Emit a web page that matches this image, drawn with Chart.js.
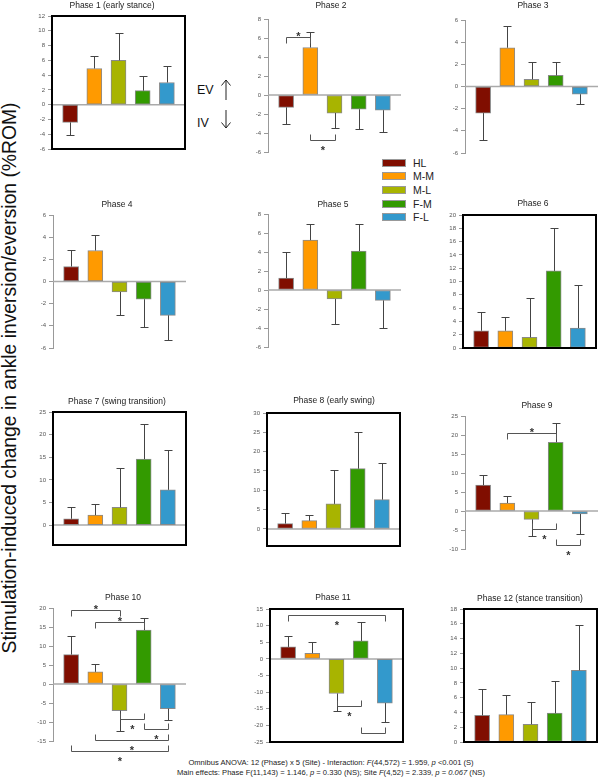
<!DOCTYPE html>
<html>
<head>
<meta charset="utf-8">
<script src="https://cdn.jsdelivr.net/npm/chart.js@4.4.1/dist/chart.umd.min.js"></script>
<style>
  body { margin: 0; background: #fff; width: 600px; height: 779px; position: relative; overflow: hidden;
         font-family: 'Liberation Sans', Arial, sans-serif; color: #222; }
  canvas { position: absolute; }
  .ytitle { position: absolute; left: 10px; top: 378px; transform: translate(-50%, -50%) rotate(-90deg);
            white-space: nowrap; font-size: 19.3px; line-height: 22px; color: #111; }
  .leg { position: absolute; left: 382px; height: 14px; line-height: 14px; font-size: 10.5px; }
  .leg span { position: absolute; left: 0; top: 3px; width: 24px; height: 8px; box-sizing: border-box; border: 1px solid #999; }
  .leg b { position: absolute; left: 31px; top: 0; font-weight: normal; white-space: nowrap; }
  .ev { position: absolute; left: 197px; font-size: 12.5px; line-height: 14px; color: #111; }
  .foot { position: absolute; left: 331px; transform: translateX(-50%); white-space: nowrap; font-size: 7.6px; color: #222; }
</style>
</head>
<body>
<div class="ytitle">Stimulation-induced change in ankle inversion/eversion (%ROM)</div>

<div class="ev" style="top:83px">EV</div>
<div class="ev" style="top:116px">IV</div>
<svg style="position:absolute;left:0;top:0" width="600" height="779">
  <g stroke="#222" stroke-width="1" fill="none">
    <line x1="226" y1="100" x2="226" y2="80"/><polyline points="221.5,85.5 226,80 230.5,85.5"/>
    <line x1="226" y1="110" x2="226" y2="128"/><polyline points="221.5,122.5 226,128 230.5,122.5"/>
  </g>
</svg>

<div id="legend"></div>

<div class="foot" style="top:758px">Omnibus ANOVA: 12 (Phase) x 5 (Site) - Interaction: <i>F</i>(44,572) = 1.959, <i>p</i> &lt;0.001 (S)</div>
<div class="foot" style="top:768px">Main effects: Phase F(11,143) = 1.146, <i>p</i> = 0.330 (NS); Site <i>F</i>(4,52) = 2.339, <i>p</i> = <i>0.067</i> (NS)</div>

<script>
// ---- data ----
const sites = ['HL', 'M-M', 'M-L', 'F-M', 'F-L'];
const siteColors = ['#800e00', '#ff9a00', '#a8b400', '#339a00', '#3399cc'];

const phaseTitles = ['Phase 1 (early stance)', 'Phase 2', 'Phase 3', 'Phase 4', 'Phase 5', 'Phase 6',
  'Phase 7 (swing transition)', 'Phase 8 (early swing)', 'Phase 9', 'Phase 10', 'Phase 11',
  'Phase 12 (stance transition)'];

// mean change and SD, per site (HL, M-M, M-L, F-M, F-L)
const mean1 = [-2.4, 4.9, 6.0, 1.9, 3.0],      sd1 = [1.7, 1.7, 3.7, 2.0, 2.2];
const mean2 = [-1.3, 5.0, -1.9, -1.5, -1.6],   sd2 = [1.7, 1.6, 1.6, 2.1, 2.3];
const mean3 = [-2.4, 3.5, 0.65, 1.0, -0.7],    sd3 = [2.4, 2.0, 1.55, 1.25, 0.9];
const mean4 = [1.35, 2.8, -0.95, -1.6, -3.05], sd4 = [1.45, 1.4, 2.05, 2.5, 2.2];
const mean5 = [1.25, 5.25, -0.95, 4.1, -1.1],  sd5 = [2.75, 1.75, 2.6, 2.9, 2.95];
const mean6 = [2.6, 2.6, 1.6, 11.6, 3.0],      sd6 = [2.8, 2.1, 5.9, 6.4, 6.4];
const mean7 = [1.4, 2.2, 3.9, 14.6, 7.8],      sd7 = [2.5, 2.4, 8.7, 7.7, 8.7];
const mean8 = [1.4, 2.15, 6.5, 15.6, 7.6],     sd8 = [2.8, 1.55, 8.8, 9.6, 9.4];
const mean9 = [6.8, 2.1, -2.2, 18.1, -0.8],    sd9 = [2.8, 1.9, 4.5, 5.0, 5.25];
const mean10 = [7.75, 3.2, -7.0, 14.2, -6.5],  sd10 = [4.9, 2.0, 5.35, 3.3, 3.0];
const mean11 = [3.6, 1.7, -10.4, 5.4, -13.3],  sd11 = [3.3, 3.5, 5.2, 5.8, 5.6];
const mean12 = [3.6, 3.7, 2.4, 3.9, 9.7],      sd12 = [3.6, 2.7, 3.0, 4.35, 6.2];

// y-axis ranges and tick labels
const yMin = [-6, -6, -6, -6, -6, 0, -4.4, -4.4, -10, -15, -25, 0];
const yMax = [12, 8, 6, 6, 8, 20, 25, 30, 25, 20, 15, 18];
const ticks1 = [-6, -4, -2, 0, 2, 4, 6, 8, 10, 12];
const ticks2 = [-6, -4, -2, 0, 2, 4, 6, 8];
const ticks3 = [-6, -4, -2, 0, 2, 4, 6];
const ticks4 = [-6, -4, -2, 0, 2, 4, 6];
const ticks5 = [-6, -4, -2, 0, 2, 4, 6, 8];
const ticks6 = [0, 2, 4, 6, 8, 10, 12, 14, 16, 18, 20];
const ticks7 = [0, 5, 10, 15, 20, 25];
const ticks8 = [0, 5, 10, 15, 20, 25, 30];
const ticks9 = [-10, -5, 0, 5, 10, 15, 20, 25];
const ticks10 = [-15, -10, -5, 0, 5, 10, 15, 20];
const ticks11 = [-25, -20, -15, -10, -5, 0, 5, 10, 15];
const ticks12 = [0, 2, 4, 6, 8, 10, 12, 14, 16, 18];

// significance brackets: [from site, to site, level, star]
const brackets2 = [[0, 1, 6.1, 'above'], [1, 2, -4.7, 'below']];
const brackets9 = [[1, 3, 20.4, 'above'], [2, 3, -4.75, 'below'], [3, 4, -9.0, 'below']];
const brackets10 = [[0, 2, 19.6, 'above'], [1, 3, 16.3, 'above'], [2, 3, -9.3, 'below'],
  [3, 4, -11.9, 'below'], [1, 4, -14.7, 'below'], [0, 4, -17.6, 'below']];
const brackets11 = [[0, 4, 13.3, 'below'], [2, 3, -14.1, 'below'], [3, 4, -22.2, 'none']];

const means = [mean1, mean2, mean3, mean4, mean5, mean6, mean7, mean8, mean9, mean10, mean11, mean12];
const sds = [sd1, sd2, sd3, sd4, sd5, sd6, sd7, sd8, sd9, sd10, sd11, sd12];
const tickSets = [ticks1, ticks2, ticks3, ticks4, ticks5, ticks6, ticks7, ticks8, ticks9, ticks10, ticks11, ticks12];
const bracketSets = [[], brackets2, [], [], [], [], [], [], brackets9, brackets10, brackets11, []];
const boxed = [true, false, false, false, false, true, true, true, false, false, true, true];

// ---- layout ----
// [axis x, plot top, title x, title y]
const panelPos = [
  [52, 16, 112, 6], [268, 19, 331, 6], [465, 20, 533, 5.5],
  [53, 215, 117, 204.7], [268, 214, 333, 204.7], [463, 215, 533, 204],
  [53, 412, 117, 402], [267, 413, 334, 401], [465, 416, 537, 405.7],
  [53, 608, 123, 597.3], [270, 609, 333, 598], [464, 609, 530, 599]
];
const AX_W = 26, PLOT_W = 133, PLOT_H = 133, PAD_T = 24, PAD_R = 6, PAD_B = 34;
const FONT = "'Liberation Sans', Arial, sans-serif";

Chart.defaults.font.family = FONT;
Chart.defaults.animation = false;

// legend
const legendRows = [162.7, 176.3, 190, 203.7, 217.4];
const legend = document.getElementById('legend');
sites.forEach((s, k) => {
  const d = document.createElement('div');
  d.className = 'leg';
  d.style.top = (legendRows[k] - 7) + 'px';
  d.innerHTML = '<span style="background:' + siteColors[k] + '"></span><b>' + s + '</b>';
  legend.appendChild(d);
});

function decoPlugin(i) {
  const [ax, top, tx, ty] = panelPos[i];
  const offX = ax - AX_W, offY = top - PAD_T;
  return {
    id: 'deco' + i,
    beforeDatasetsDraw(chart) {
      const { ctx, chartArea: a, scales: { y } } = chart;
      if (y.min >= 0) return;
      const y0 = y.getPixelForValue(0);
      ctx.save();
      ctx.strokeStyle = '#aaa';
      ctx.lineWidth = 1.5;
      ctx.beginPath();
      ctx.moveTo(a.left, y0);
      ctx.lineTo(a.right, y0);
      ctx.stroke();
      ctx.restore();
    },
    afterDatasetsDraw(chart) {
      const { ctx, scales: { x, y } } = chart;
      ctx.save();
      ctx.strokeStyle = '#444';
      ctx.lineWidth = 1;
      means[i].forEach((m, k) => {
        const tip = m >= 0 ? m + sds[i][k] : m - sds[i][k];
        const px = Math.round(x.getPixelForValue(k)) + 0.5;
        const y1 = y.getPixelForValue(m), y2 = Math.round(y.getPixelForValue(tip)) + 0.5;
        ctx.beginPath();
        ctx.moveTo(px, y1);
        ctx.lineTo(px, y2);
        ctx.moveTo(px - 4, y2);
        ctx.lineTo(px + 4, y2);
        ctx.stroke();
      });
      ctx.restore();
    },
    afterDraw(chart) {
      const { ctx, chartArea: a, scales: { x, y } } = chart;
      ctx.save();
      if (boxed[i]) {
        ctx.strokeStyle = '#000';
        ctx.lineWidth = 2;
        ctx.strokeRect(a.left, a.top, a.right - a.left, a.bottom - a.top);
      }
      // title
      ctx.fillStyle = '#222';
      ctx.font = '8.5px ' + FONT;
      ctx.textAlign = 'center';
      ctx.textBaseline = 'middle';
      ctx.fillText(phaseTitles[i], tx - offX, ty - offY);
      // brackets
      ctx.strokeStyle = '#555';
      ctx.lineWidth = 1;
      ctx.fillStyle = '#333';
      ctx.font = 'bold 11px ' + FONT;
      ctx.textBaseline = 'alphabetic';
      bracketSets[i].forEach(([from, to, lvl, star]) => {
        const x1 = Math.round(x.getPixelForValue(from)) + 0.5;
        const x2 = Math.round(x.getPixelForValue(to)) + 0.5;
        const by = Math.round(y.getPixelForValue(lvl)) + 0.5;
        const t = lvl > 0 ? 6 : -6;
        ctx.beginPath();
        ctx.moveTo(x1, by + t);
        ctx.lineTo(x1, by);
        ctx.lineTo(x2, by);
        ctx.lineTo(x2, by + t);
        ctx.stroke();
        if (star === 'above') ctx.fillText('*', (x1 + x2) / 2, by + 2);
        else if (star === 'below') ctx.fillText('*', (x1 + x2) / 2, by + 13);
      });
      ctx.restore();
    }
  };
}

function makePanel(i) {
  const [ax, top] = panelPos[i];
  const canvas = document.createElement('canvas');
  canvas.width = AX_W + PLOT_W + PAD_R;
  canvas.height = PAD_T + PLOT_H + PAD_B;
  canvas.style.left = (ax - AX_W) + 'px';
  canvas.style.top = (top - PAD_T) + 'px';
  document.body.appendChild(canvas);

  new Chart(canvas, {
    type: 'bar',
    data: {
      datasets: [{
        data: means[i].map((v, k) => ({ x: k, y: v })),
        backgroundColor: siteColors,
        borderColor: '#8a8a8a',
        borderWidth: 1,
        borderSkipped: false,
        barThickness: 15
      }]
    },
    options: {
      responsive: false,
      layout: { padding: { top: PAD_T, right: PAD_R, bottom: PAD_B, left: 0 } },
      plugins: { legend: { display: false }, tooltip: { enabled: false }, title: { display: false } },
      scales: {
        x: { type: 'linear', min: -0.75, max: 4.75, offset: false, display: false },
        y: {
          min: yMin[i],
          max: yMax[i],
          afterBuildTicks: (scale) => { scale.ticks = tickSets[i].map(v => ({ value: v })); },
          afterFit: (scale) => { scale.width = AX_W; },
          ticks: { font: { size: 6 }, color: '#555', padding: 3, autoSkip: false },
          grid: { display: true, drawOnChartArea: false, drawTicks: true, tickLength: 4, color: '#999' },
          border: { display: !boxed[i], color: '#999' }
        }
      }
    },
    plugins: [decoPlugin(i)]
  });
}

for (let i = 0; i < 12; i++) makePanel(i);
</script>
</body>
</html>
